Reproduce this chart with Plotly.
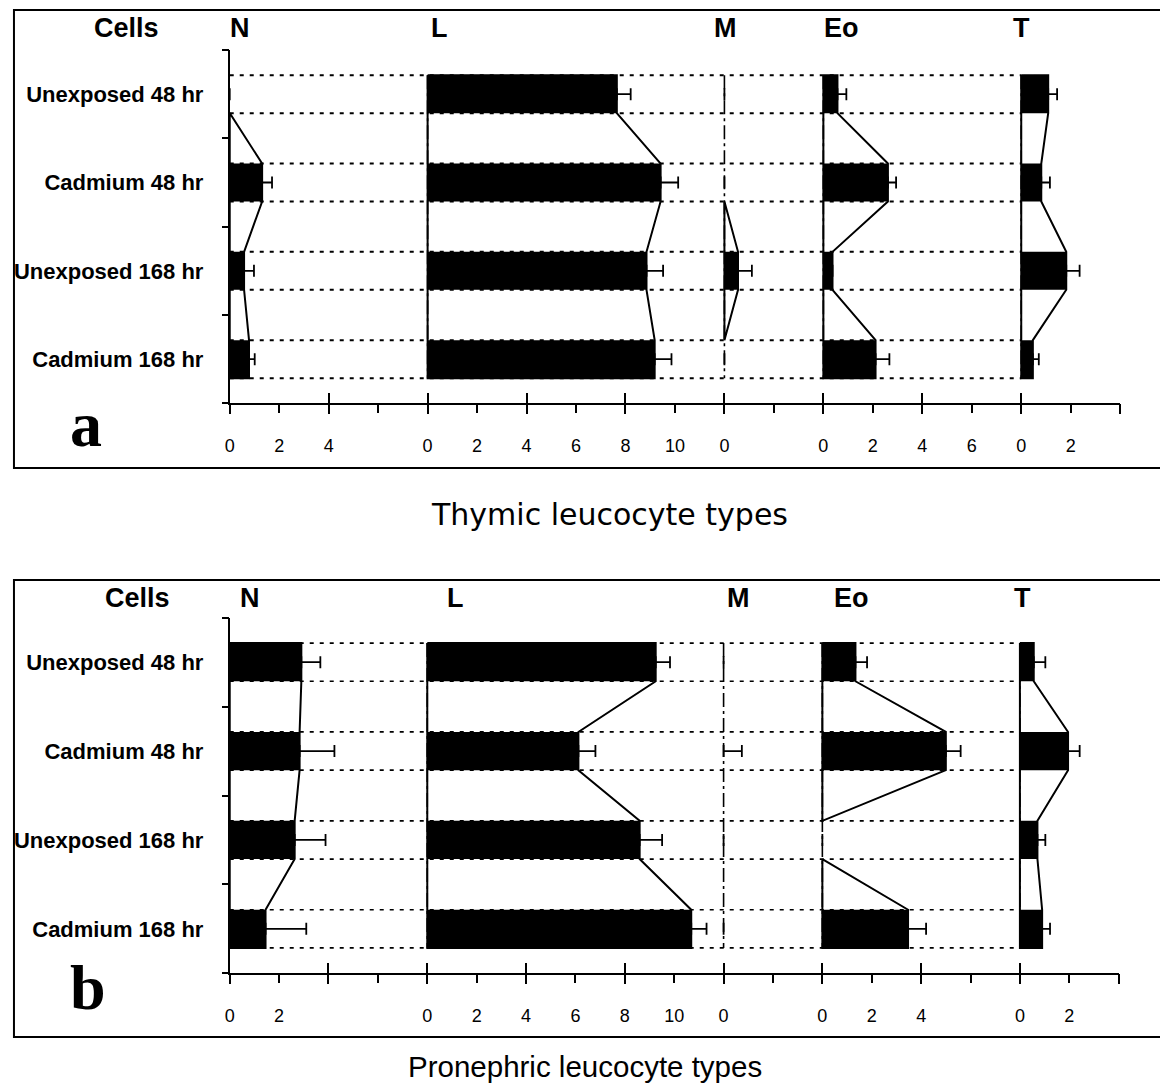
import plotly.graph_objects as go

# ---------------- data ----------------
categories = ["Unexposed 48 hr", "Cadmium 48 hr", "Unexposed 168 hr", "Cadmium 168 hr"]
cell_types = ["N", "L", "M", "Eo", "T"]
type_origin = [0, 8, 20, 24, 32]   # origin of each cell-type column on the shared scale
scale_max = 36

# Panel a: thymic leucocyte types (mean, one-sided error)
thy_N = [0.0, 1.31, 0.58, 0.78]
thy_N_se = [None, 0.40, 0.40, 0.23]
thy_L = [7.65, 9.42, 8.85, 9.18]
thy_L_se = [0.56, 0.71, 0.67, 0.68]
thy_M = [0.0, 0.0, 0.55, 0.0]
thy_M_se = [None, None, 0.56, None]
thy_Eo = [0.57, 2.61, 0.37, 2.11]
thy_Eo_se = [0.36, 0.33, None, 0.56]
thy_T = [1.09, 0.81, 1.82, 0.47]
thy_T_se = [0.36, 0.35, 0.54, 0.24]

# Panel b: pronephric leucocyte types
pro_N = [2.90, 2.83, 2.63, 1.45]
pro_N_se = [0.77, 1.41, 1.25, 1.65]
pro_L = [9.25, 6.12, 8.60, 10.69]
pro_L_se = [0.58, 0.69, 0.91, 0.62]
pro_M = [0.0, 0.0, 0.0, 0.0]
pro_M_se = [None, 0.74, None, None]
pro_Eo = [1.34, 5.00, 0.0, 3.47]
pro_Eo_se = [0.47, 0.60, None, 0.73]
pro_T = [0.56, 1.95, 0.71, 0.90]
pro_T_se = [0.47, 0.47, 0.32, 0.32]

thy_tick_labels = [[0, 2, 4], [0, 2, 4, 6, 8, 10], [0], [0, 2, 4, 6], [0, 2]]
pro_tick_labels = [[0, 2], [0, 2, 4, 6, 8, 10], [0], [0, 2, 4], [0, 2]]

panel_titles = ["Thymic leucocyte types", "Pronephric leucocyte types"]
panel_letters = ["a", "b"]

# ---------------- layout helpers ----------------
W, H = 1160, 1090


def px(x):
    return x / W


def py(y):
    return 1 - y / H


BAR_W = 0.43
HALF = BAR_W / 2
BOLD = "Liberation Sans"

fig = go.Figure()


def add_panel(vals, ses, xa, ya, dot_w):
    n = len(categories)
    rows = list(range(n))
    # dotted guide lines at bar edges
    gx, gy = [], []
    for i in rows:
        for e in (i - HALF, i + HALF):
            gx += [type_origin[0], type_origin[-1], None]
            gy += [e, e, None]
    fig.add_trace(go.Scatter(x=gx, y=gy, mode="lines", xaxis=xa, yaxis=ya,
                             line=dict(color="black", width=dot_w, dash="4px,6px"),
                             hoverinfo="skip", showlegend=False))
    # dash-dot zero lines of each column (N uses the y axis line)
    for k in range(1, len(cell_types)):
        o = type_origin[k]
        fig.add_trace(go.Scatter(x=[o, o], y=[-HALF, n - 1 + HALF], mode="lines",
                                 xaxis=xa, yaxis=ya,
                                 line=dict(color="black", width=1.6, dash="14px,4px,3px,4px"),
                                 hoverinfo="skip", showlegend=False))
    # profile outlines connecting bar ends
    for k in range(len(cell_types)):
        o = type_origin[k]
        v = vals[k]
        lx, ly = [], []
        i = 0
        while i < n:
            if v[i] <= 0:
                i += 1
                continue
            j = i
            while j + 1 < n and v[j + 1] > 0:
                j += 1
            y_start = -HALF if i == 0 else (i - 1) + HALF
            y_end = (n - 1) + HALF if j == n - 1 else (j + 1) - HALF
            lx += [o]
            ly += [y_start]
            for m in range(i, j + 1):
                lx += [o + v[m], o + v[m]]
                ly += [m - HALF, m + HALF]
            lx += [o, o, None]
            ly += [y_end, y_start, None]
            i = j + 1
        if lx:
            fig.add_trace(go.Scatter(x=lx, y=ly, mode="lines", xaxis=xa, yaxis=ya,
                                     line=dict(color="black", width=2),
                                     hoverinfo="skip", showlegend=False))
    # black bars
    for k in range(len(cell_types)):
        fig.add_trace(go.Bar(y=rows, x=vals[k], base=type_origin[k], orientation="h",
                             width=BAR_W, xaxis=xa, yaxis=ya,
                             marker=dict(color="black", line=dict(width=0)),
                             name=cell_types[k], showlegend=False))
    # one-sided error bars
    for k in range(len(cell_types)):
        fig.add_trace(go.Scatter(y=rows, x=[type_origin[k] + x for x in vals[k]],
                                 mode="markers", xaxis=xa, yaxis=ya,
                                 marker=dict(size=1, color="rgba(0,0,0,0)"),
                                 error_x=dict(type="data", array=ses[k],
                                              arrayminus=[0] * n, symmetric=False,
                                              color="black", thickness=1.8, width=6),
                                 hoverinfo="skip", showlegend=False))


add_panel([thy_N, thy_L, thy_M, thy_Eo, thy_T],
          [thy_N_se, thy_L_se, thy_M_se, thy_Eo_se, thy_T_se], "x", "y", 2.0)
add_panel([pro_N, pro_L, pro_M, pro_Eo, pro_T],
          [pro_N_se, pro_L_se, pro_M_se, pro_Eo_se, pro_T_se], "x2", "y2", 1.7)


def label_ticks(tick_labels):
    vals, text = [], []
    for k, labs in enumerate(tick_labels):
        for t in labs:
            vals.append(type_origin[k] + t)
            text.append(str(t))
    return vals, text


panels = [
    dict(x="x", y="y", xo="x3", xi="x5", yt="y3",
         xdom=[px(225.7), px(1120)], ydom=[py(403.3), py(50)], ticks=thy_tick_labels),
    dict(x="x2", y="y2", xo="x4", xi="x6", yt="y4",
         xdom=[px(225.7), px(1118.5)], ydom=[py(973.3), py(617.7)], ticks=pro_tick_labels),
]


def axname(a):
    return a[0] + "axis" + a[1:]


# register overlay tick axes with empty traces so they are drawn
for p in panels:
    for xa in (p["xo"], p["xi"]):
        fig.add_trace(go.Scatter(x=[None], y=[None], xaxis=xa, yaxis=p["y"],
                                 mode="markers", hoverinfo="skip", showlegend=False))
    fig.add_trace(go.Scatter(x=[None], y=[None], xaxis=p["x"], yaxis=p["yt"],
                             mode="markers", hoverinfo="skip", showlegend=False))

layout_axes = {}
for p in panels:
    tv, tt = label_ticks(p["ticks"])
    layout_axes[axname(p["x"])] = dict(
        domain=p["xdom"], range=[0, scale_max], anchor=p["y"], showline=True,
        linewidth=2, linecolor="black", ticks="", tickmode="array", tickvals=tv,
        ticktext=tt, tickfont=dict(family="Liberation Sans", size=18, color="black"),
        ticklabelstandoff=25, showgrid=False, zeroline=False)
    layout_axes[axname(p["xo"])] = dict(
        overlaying=p["x"], anchor=p["y"], range=[0, scale_max], tickmode="linear",
        tick0=0, dtick=4, ticks="outside", ticklen=10, tickwidth=2, tickcolor="black",
        minor=dict(tickmode="linear", tick0=0, dtick=2, ticks="outside", ticklen=9,
                   tickwidth=1.5, tickcolor="black"),
        showticklabels=False, showgrid=False, zeroline=False, showline=False)
    layout_axes[axname(p["xi"])] = dict(
        overlaying=p["x"], anchor=p["y"], range=[0, scale_max], tickmode="linear",
        tick0=0, dtick=4, ticks="inside", ticklen=10, tickwidth=2, tickcolor="black",
        showticklabels=False, showgrid=False, zeroline=False, showline=False)
    layout_axes[axname(p["y"])] = dict(
        domain=p["ydom"], range=[len(categories) - 0.5, -0.5], anchor=p["x"],
        showline=True, linewidth=1.8, linecolor="black", ticks="",
        tickmode="array", tickvals=list(range(len(categories))), ticktext=categories,
        tickfont=dict(family=BOLD, size=22, color="black", weight="bold"),
        ticklabelstandoff=20, showgrid=False, zeroline=False)
    layout_axes[axname(p["yt"])] = dict(
        overlaying=p["y"], anchor=p["x"], side="left",
        range=[len(categories) - 0.5, -0.5], tickmode="array",
        tickvals=[i - 0.5 for i in range(len(categories) + 1)], ticks="outside",
        ticklen=7, tickwidth=1.5, tickcolor="black", showticklabels=False,
        showgrid=False, zeroline=False, showline=False)

annotations = []
header_y = [28, 598]
cells_x = [122, 133]
header_shift = [[10, 12, 1, 18, 0], [20, 28, 15, 29, 3]]
letter_pos = [(81, 424), (83, 987)]
title_pos = [(607, 515), (583, 1066)]
title_fonts = ["DejaVu Sans", "Liberation Sans"]
title_sizes = [30, 29.5]
for pi, p in enumerate(panels):
    annotations.append(dict(text="<b>Cells</b>", x=px(cells_x[pi]), y=py(header_y[pi]),
                            xref="paper", yref="paper", showarrow=False,
                            xanchor="center", yanchor="middle",
                            font=dict(family=BOLD, size=27, color="black")))
    for k, ct in enumerate(cell_types):
        annotations.append(dict(text="<b>" + ct + "</b>", x=type_origin[k], xref=p["x"],
                                y=py(header_y[pi]), yref="paper", showarrow=False,
                                xanchor="center", yanchor="middle",
                                xshift=header_shift[pi][k],
                                font=dict(family=BOLD, size=27, color="black")))
    lx, ly = letter_pos[pi]
    annotations.append(dict(text="<b>" + panel_letters[pi] + "</b>", x=px(lx), y=py(ly),
                            xref="paper", yref="paper", showarrow=False,
                            xanchor="center", yanchor="middle",
                            font=dict(family="Liberation Serif", size=64, color="black")))
    tx, ty = title_pos[pi]
    annotations.append(dict(text=panel_titles[pi], x=px(tx), y=py(ty),
                            xref="paper", yref="paper", showarrow=False,
                            xanchor="center", yanchor="middle",
                            font=dict(family=title_fonts[pi], size=title_sizes[pi],
                                      color="black")))

shapes = [
    dict(type="rect", xref="paper", yref="paper", x0=px(9), x1=px(1175),
         y0=py(468), y1=py(10), line=dict(color="black", width=2)),
    dict(type="rect", xref="paper", yref="paper", x0=px(9), x1=px(1175),
         y0=py(1037), y1=py(580), line=dict(color="black", width=2)),
]

fig.update_layout(
    width=W, height=H, margin=dict(l=0, r=0, t=0, b=0),
    paper_bgcolor="white", plot_bgcolor="rgba(0,0,0,0)",
    barmode="overlay", showlegend=False,
    annotations=annotations, shapes=shapes,
    **layout_axes,
)

fig.write_html("out.html")
